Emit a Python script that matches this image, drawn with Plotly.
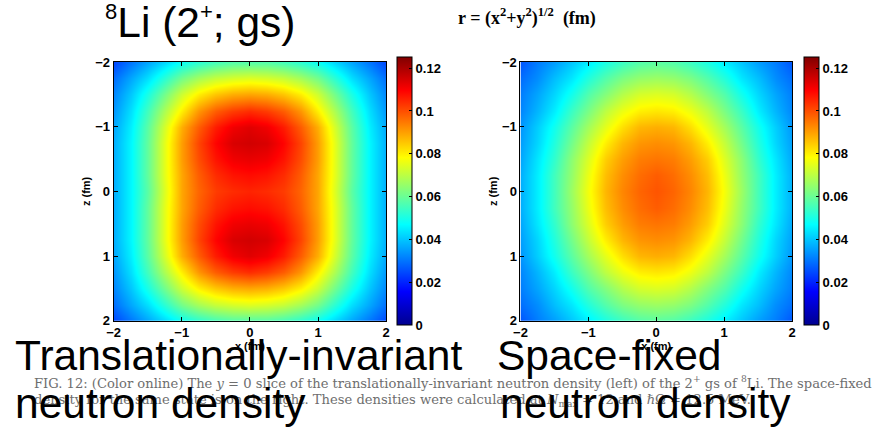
import numpy as np
import plotly.graph_objects as go

W, H = 875, 432

# grid coordinates (fm) of the quadrant x>=0, z>=0
quad_coords = [0.0, 0.25, 0.5, 0.75, 1.0, 1.25, 1.5, 1.75, 2.0]
coords = [-2.0, -1.75, -1.5, -1.25, -1.0, -0.75, -0.5, -0.25, 0.0,
          0.25, 0.5, 0.75, 1.0, 1.25, 1.5, 1.75, 2.0]

# translationally-invariant neutron density, rows z = 0..2, cols x = 0..2
ti_quadrant = [
    [0.105, 0.104, 0.102, 0.097, 0.089, 0.074, 0.058, 0.046, 0.037],
    [0.108, 0.107, 0.104, 0.098, 0.089, 0.075, 0.059, 0.046, 0.037],
    [0.112, 0.111, 0.107, 0.100, 0.090, 0.075, 0.059, 0.046, 0.037],
    [0.115, 0.114, 0.109, 0.101, 0.090, 0.075, 0.059, 0.046, 0.037],
    [0.113, 0.111, 0.106, 0.098, 0.088, 0.073, 0.058, 0.045, 0.036],
    [0.104, 0.102, 0.098, 0.091, 0.080, 0.068, 0.055, 0.043, 0.034],
    [0.089, 0.088, 0.085, 0.080, 0.072, 0.061, 0.050, 0.040, 0.032],
    [0.074, 0.073, 0.071, 0.067, 0.061, 0.052, 0.043, 0.036, 0.029],
    [0.057, 0.057, 0.055, 0.052, 0.048, 0.042, 0.036, 0.030, 0.024],
]

# space-fixed neutron density, rows z = 0..2, cols x = 0..2
sf_quadrant = [
    [0.099, 0.097, 0.093, 0.087, 0.077, 0.066, 0.055, 0.045, 0.037],
    [0.098, 0.096, 0.092, 0.086, 0.076, 0.065, 0.055, 0.045, 0.037],
    [0.095, 0.094, 0.090, 0.084, 0.074, 0.064, 0.053, 0.044, 0.036],
    [0.092, 0.091, 0.087, 0.080, 0.071, 0.061, 0.051, 0.042, 0.035],
    [0.088, 0.087, 0.082, 0.075, 0.067, 0.058, 0.049, 0.041, 0.034],
    [0.081, 0.080, 0.076, 0.070, 0.062, 0.054, 0.045, 0.038, 0.032],
    [0.074, 0.073, 0.069, 0.063, 0.057, 0.049, 0.042, 0.036, 0.031],
    [0.066, 0.065, 0.062, 0.057, 0.051, 0.044, 0.039, 0.033, 0.029],
    [0.058, 0.057, 0.054, 0.050, 0.045, 0.040, 0.035, 0.031, 0.026],
]

axis_ticks = [-2, -1, 0, 1, 2]
cbar_ticks = [0, 0.02, 0.04, 0.06, 0.08, 0.1, 0.12]
cbar_labels = ["0", "0.02", "0.04", "0.06", "0.08", "0.1", "0.12"]


def full_grid(quadrant):
    q = np.array(quadrant)
    rows = np.vstack([q[:0:-1], q])          # z from -2 to 2
    return np.hstack([rows[:, :0:-1], rows])  # x from -2 to 2


jet = [[0.0, "rgb(0,0,143)"], [0.125, "rgb(0,0,255)"], [0.375, "rgb(0,255,255)"],
       [0.625, "rgb(255,255,0)"], [0.875, "rgb(255,0,0)"], [1.0, "rgb(128,0,0)"]]

SANS = "Liberation Sans"
tickfont = dict(family=SANS, size=13, color="black", weight="bold")


def cbar(xpx):
    return dict(x=xpx / W, xanchor="left", y=1 - 191 / H, yanchor="middle",
                len=268, lenmode="pixels", thickness=15, thicknessmode="pixels",
                outlinewidth=1, outlinecolor="black", ticks="inside", ticklen=3,
                tickcolor="black", tickvals=cbar_ticks, ticktext=cbar_labels,
                tickfont=tickfont, xpad=0, ypad=0)


fig = go.Figure()
fig.add_trace(go.Heatmap(x=coords, y=coords, z=full_grid(ti_quadrant), colorscale=jet,
                         zmin=0, zmax=0.125, zsmooth="best", xaxis="x", yaxis="y",
                         colorbar=cbar(395)))
fig.add_trace(go.Heatmap(x=coords, y=coords, z=full_grid(sf_quadrant), colorscale=jet,
                         zmin=0, zmax=0.125, zsmooth="best", xaxis="x2", yaxis="y2",
                         colorbar=cbar(807)))

ax_common = dict(tickvals=axis_ticks, ticks="inside", ticklen=4, tickcolor="black",
                 showline=True, mirror="ticks", linecolor="black", linewidth=1,
                 showgrid=False, zeroline=False, tickfont=tickfont)
titlefont = dict(family=SANS, size=11, color="black", weight="bold")

ydom = [1 - 325 / H, 1 - 57 / H]
fig.update_layout(
    width=W, height=H, margin=dict(l=0, r=0, t=0, b=0),
    paper_bgcolor="white", plot_bgcolor="white", showlegend=False,
    xaxis=dict(domain=[108 / W, 384 / W], range=[-2, 2], anchor="y",
               title=dict(text="x (fm)", font=titlefont, standoff=2), **ax_common),
    yaxis=dict(domain=ydom, range=[2, -2], anchor="x",
               title=dict(text="z (fm)", font=titlefont, standoff=2), **ax_common),
    xaxis2=dict(domain=[520 / W, 795 / W], range=[-2, 2], anchor="y2",
                title=dict(text="x (fm)", font=titlefont, standoff=2), **ax_common),
    yaxis2=dict(domain=ydom, range=[2, -2], anchor="x2",
                title=dict(text="z (fm)", font=titlefont, standoff=2), **ax_common),
)

SERIF = "Liberation Serif"
cap_font = dict(family="DejaVu Serif", size=13.1, color="#6e6e6e")
big_font = dict(family=SANS, size=42.5, color="black")


def ann(text, xpx, ycpx, font, anchor="left"):
    fig.add_annotation(text=text, x=xpx / W, y=1 - ycpx / H, xref="paper", yref="paper",
                       xanchor=anchor, yanchor="middle", showarrow=False, font=font,
                       borderpad=0)


# caption lines (beneath the overlay text)
ann("FIG. 12: (Color online) The <i>y</i> = 0 slice of the translationally-invariant neutron "
    "density (left) of the 2<sup>+</sup> gs of <sup>8</sup>Li. The space-fixed",
    26, 388, cap_font)
ann("density for the same state is on the right. These densities were calculated at "
    "<i>N</i><sub>max</sub> = 12 and ℏΩ = 12.5 MeV.", 26, 408, cap_font)

ann("r = (x<sup>2</sup>+y<sup>2</sup>)<sup>1/2</sup>  (fm)", 456, 10,
    dict(family=SERIF, size=18, color="black", weight="bold"))

ann("<sup><span style='font-size:22px'>8</span></sup>Li "
    "(2<sup><span style='font-size:22px'>+</span></sup>; gs)", 98, 16, big_font)
ann("Translationally-invariant", 7, 361, big_font)
ann("neutron density", 7, 411, big_font)
ann("Space-fixed", 495, 361, big_font)
ann("neutron density", 498, 411, big_font)

fig.write_html("out.html")
